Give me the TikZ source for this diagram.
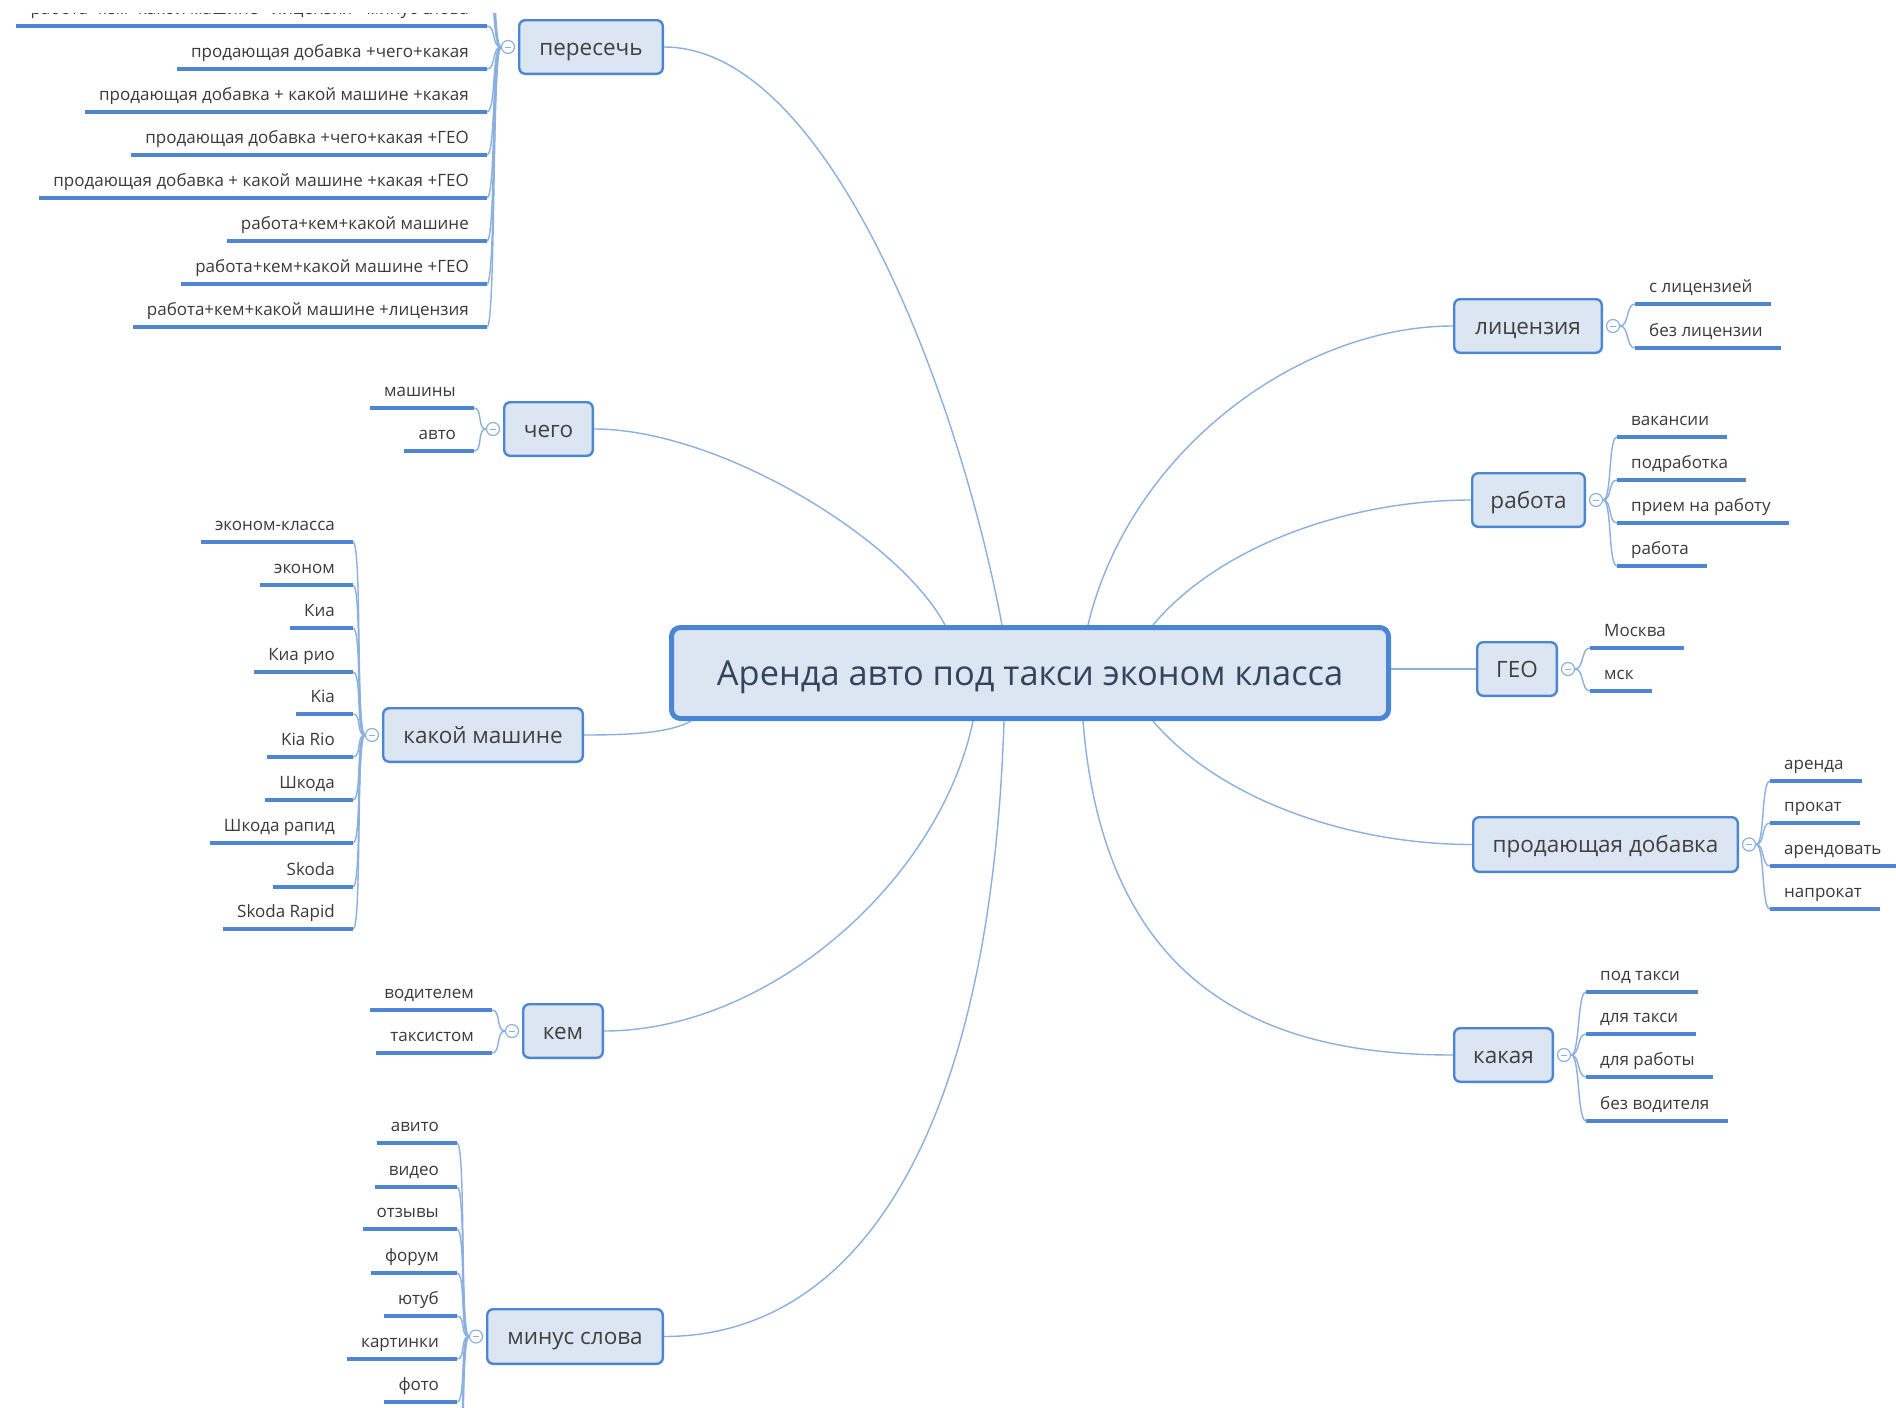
\documentclass[tikz,border=0pt]{standalone}
\usepackage{fontspec}
\setmainfont{Open Sans}
\usetikzlibrary{calc}
\definecolor{boxfill}{HTML}{DCE6F2}
\definecolor{boxline}{HTML}{4A86D4}
\definecolor{conn}{HTML}{8AB0E0}
\definecolor{uline}{HTML}{4F86D4}
\definecolor{childtxt}{HTML}{3A3A3A}
\definecolor{toptxt}{HTML}{404040}
\definecolor{maintxt}{HTML}{33445C}
\pgfdeclarelayer{back}
\pgfdeclarelayer{bg}
\pgfsetlayers{back,bg,main}
% right-side child: name, circle, line y, line start x, text
\newcommand\kidR[5]{%
  \coordinate (#1-a) at (#4,#3);
  \node[ctext, anchor=base west] (#1) at ([xshift=14pt,yshift=12pt]#1-a) {#5};
  \path (#1-a -| #1.east) coordinate (#1-b);
  \draw[uline] (#1-a) -- ([xshift=18pt]#1-b);
  \begin{pgfonlayer}{bg}
    \draw[conn] (#2.east) .. controls +(9,0) and +(-9,0) .. (#1-a);
  \end{pgfonlayer}}
% left-side child: name, circle, line y, line end x, text
\newcommand\kidL[5]{%
  \coordinate (#1-b) at (#4,#3);
  \node[ctext, anchor=base east] (#1) at ([xshift=-18pt,yshift=12pt]#1-b) {#5};
  \path (#1-b -| #1.west) coordinate (#1-a);
  \draw[uline] ([xshift=-14pt]#1-a) -- (#1-b);
  \begin{pgfonlayer}{bg}
    \draw[conn] (#2.west) .. controls +(-9,0) and +(9,0) .. (#1-b);
  \end{pgfonlayer}}
\begin{document}
\begin{tikzpicture}[x=1pt,y=-1pt,
  mainbox/.style={draw=boxline, line width=5pt, fill=boxfill, rounded corners=9pt,
    text=maintxt, font=\fontsize{34.4}{40}\selectfont, inner sep=0pt,
    text height=31.6pt, text depth=6.6pt},
  topic/.style={draw=boxline, line width=2.4pt, fill=boxfill, rounded corners=6pt,
    text=toptxt, font=\fontsize{22.5}{27}\selectfont, inner sep=0pt,
    text height=20pt, text depth=4pt},
  ctext/.style={text=childtxt, font=\fontsize{17}{20}\selectfont, inner sep=0pt},
  conn/.style={draw=conn, line width=1.4pt},
  uline/.style={draw=uline, line width=3.6pt},
  collapse/.style={circle, draw=conn, line width=1.2pt, fill=white, minimum size=13pt, inner sep=0pt,
    path picture={\draw[conn, line width=0.9pt] ([xshift=-3pt]path picture bounding box.center) -- ([xshift=3pt]path picture bounding box.center);}}
]
\useasboundingbox (0,0) rectangle (1896,1408);
\begin{pgfonlayer}{back}
\fill[white] (0,0) rectangle (1896,1408);
\end{pgfonlayer}

% central topic
\node[mainbox, minimum width=717pt, minimum height=91pt] (main) at (1030,673) {Аренда авто под такси эконом класса};

% main topics
\node[topic, minimum width=143.6pt, minimum height=53.6pt] (pcs) at (591,47) {пересечь};
\node[topic, minimum width=88.6pt, minimum height=53.6pt] (chego) at (548.5,429) {чего};
\node[topic, minimum width=199.6pt, minimum height=53.6pt] (kmash) at (483,735) {какой машине};
\node[topic, minimum width=79.6pt, minimum height=53.6pt] (kem) at (563,1031) {кем};
\node[topic, minimum width=175.6pt, minimum height=54.6pt] (minus) at (575,1336.5) {минус слова};
\node[topic, minimum width=147.6pt, minimum height=53.6pt] (lic) at (1528,326) {лицензия};
\node[topic, minimum width=112.6pt, minimum height=53.6pt] (rab) at (1528.5,500) {работа};
\node[topic, minimum width=79.6pt, minimum height=53.6pt] (geo) at (1517,669) {ГЕО};
\node[topic, minimum width=264.6pt, minimum height=54.6pt] (prod) at (1605.5,844.5) {продающая добавка};
\node[topic, minimum width=98.6pt, minimum height=53.6pt] (kak) at (1503.5,1055) {какая};

% main connectors
\begin{pgfonlayer}{bg}
\draw[conn] ([xshift=-28pt]main.north) .. controls (960,400) and (830,47) .. (pcs.east);
\draw[conn] ([xshift=-85pt]main.north) .. controls (900,540) and (720,429) .. (chego.east);
\draw[conn] ([xshift=22pt]main.south west) .. controls (670,733) and (630,735) .. (kmash.east);
\draw[conn] ([xshift=-57pt]main.south) .. controls (940,880) and (770,1031) .. (kem.east);
\draw[conn] ([xshift=-26pt]main.south) .. controls (990,1150) and (850,1336.5) .. (minus.east);
\draw[conn] ([xshift=58pt]main.north) .. controls (1130,450) and (1300,326) .. (lic.west);
\draw[conn] ([xshift=123pt]main.north) .. controls (1220,545) and (1350,500) .. (rab.west);
\draw[conn] ([yshift=4pt]main.east) -- (geo.west);
\draw[conn] ([xshift=123pt]main.south) .. controls (1220,800) and (1350,844.5) .. (prod.west);
\draw[conn] ([xshift=53pt]main.south) .. controls (1105,1000) and (1280,1055) .. (kak.west);
\end{pgfonlayer}

% collapse buttons
\node[collapse] (pcs-c) at ([xshift=-10pt]pcs.west) {};
\node[collapse] (chego-c) at ([xshift=-10pt]chego.west) {};
\node[collapse] (kmash-c) at ([xshift=-10pt]kmash.west) {};
\node[collapse] (kem-c) at ([xshift=-10pt]kem.west) {};
\node[collapse] (minus-c) at ([xshift=-10pt]minus.west) {};
\node[collapse] (lic-c) at ([xshift=10pt]lic.east) {};
\node[collapse] (rab-c) at ([xshift=10pt]rab.east) {};
\node[collapse] (geo-c) at ([xshift=10pt]geo.east) {};
\node[collapse] (prod-c) at ([xshift=10pt]prod.east) {};
\node[collapse] (kak-c) at ([xshift=10pt]kak.east) {};

% пересечь
\kidL{p0}{pcs-c}{26}{487}{работа+кем+какой машине +лицензия +минус слова}
\kidL{p1}{pcs-c}{69}{487}{продающая добавка +чего+какая}
\kidL{p2}{pcs-c}{112}{487}{продающая добавка + какой машине +какая}
\kidL{p3}{pcs-c}{155}{487}{продающая добавка +чего+какая +ГЕО}
\kidL{p4}{pcs-c}{198}{487}{продающая добавка + какой машине +какая +ГЕО}
\kidL{p5}{pcs-c}{241}{487}{работа+кем+какой машине}
\kidL{p6}{pcs-c}{284}{487}{работа+кем+какой машине +ГЕО}
\kidL{p7}{pcs-c}{327}{487}{работа+кем+какой машине +лицензия}
\coordinate (px1) at (487,-17);
\coordinate (px2) at (487,-60);
\coordinate (px3) at (487,-103);
\begin{pgfonlayer}{bg}
\foreach \c in {px1,px2,px3}
  \draw[conn] (pcs-c.west) .. controls +(-9,0) and +(9,0) .. (\c);
\end{pgfonlayer}

% чего
\kidL{c1}{chego-c}{408}{474}{машины}
\kidL{c2}{chego-c}{451}{474}{авто}

% какой машине
\kidL{k1}{kmash-c}{542}{353}{эконом-класса}
\kidL{k2}{kmash-c}{585}{353}{эконом}
\kidL{k3}{kmash-c}{628}{353}{Киа}
\kidL{k4}{kmash-c}{672}{353}{Киа рио}
\kidL{k5}{kmash-c}{714}{353}{Kia}
\kidL{k6}{kmash-c}{757}{353}{Kia Rio}
\kidL{k7}{kmash-c}{800}{353}{Шкода}
\kidL{k8}{kmash-c}{843}{353}{Шкода рапид}
\kidL{k9}{kmash-c}{887}{353}{Skoda}
\kidL{k10}{kmash-c}{929}{353}{Skoda Rapid}

% кем
\kidL{e1}{kem-c}{1010}{492}{водителем}
\kidL{e2}{kem-c}{1053}{492}{таксистом}

% минус слова
\kidL{m1}{minus-c}{1143}{457}{авито}
\kidL{m2}{minus-c}{1187}{457}{видео}
\kidL{m3}{minus-c}{1229}{457}{отзывы}
\kidL{m4}{minus-c}{1273}{457}{форум}
\kidL{m5}{minus-c}{1316}{457}{ютуб}
\kidL{m6}{minus-c}{1359}{457}{картинки}
\kidL{m7}{minus-c}{1402}{457}{фото}
\coordinate (mx1) at (457,1445);
\coordinate (mx2) at (457,1488);
\coordinate (mx3) at (457,1531);
\begin{pgfonlayer}{bg}
\foreach \c in {mx1,mx2,mx3}
  \draw[conn] (minus-c.west) .. controls +(-9,0) and +(9,0) .. (\c);
\end{pgfonlayer}

% лицензия
\kidR{l1}{lic-c}{304}{1635}{с лицензией}
\kidR{l2}{lic-c}{348}{1635}{без лицензии}

% работа
\kidR{r1}{rab-c}{437}{1617}{вакансии}
\kidR{r2}{rab-c}{480}{1617}{подработка}
\kidR{r3}{rab-c}{523}{1617}{прием на работу}
\kidR{r4}{rab-c}{566}{1617}{работа}

% ГЕО
\kidR{g1}{geo-c}{648}{1590}{Москва}
\kidR{g2}{geo-c}{691}{1590}{мск}

% продающая добавка
\kidR{d1}{prod-c}{781}{1770}{аренда}
\kidR{d2}{prod-c}{823}{1770}{прокат}
\kidR{d3}{prod-c}{866}{1770}{арендовать}
\kidR{d4}{prod-c}{909}{1770}{напрокат}

% какая
\kidR{a1}{kak-c}{992}{1586}{под такси}
\kidR{a2}{kak-c}{1034}{1586}{для такси}
\kidR{a3}{kak-c}{1077}{1586}{для работы}
\kidR{a4}{kak-c}{1121}{1586}{без водителя}

% cropped top band
\fill[white] (0,0) rectangle (1896,13);
\end{tikzpicture}
\end{document}
